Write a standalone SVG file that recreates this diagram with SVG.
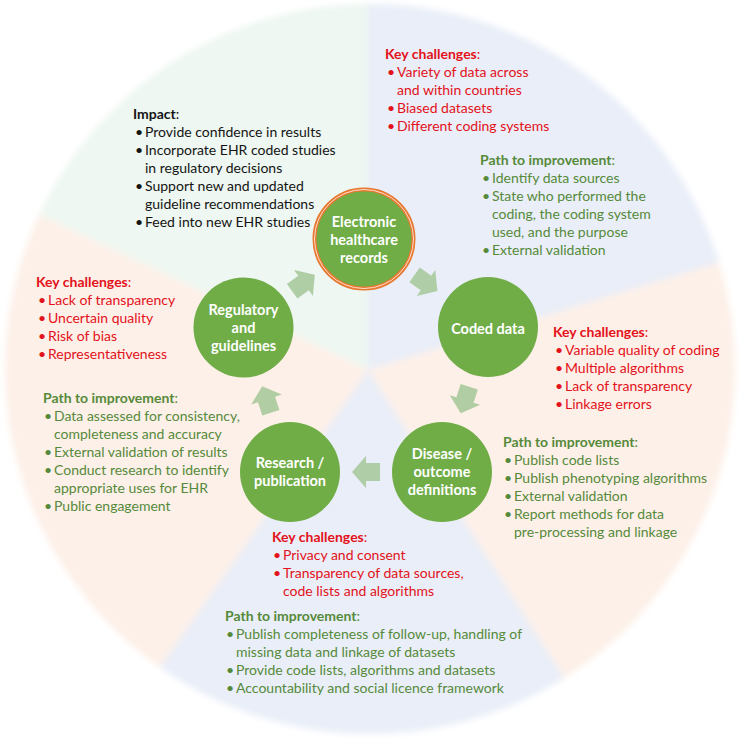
<svg xmlns="http://www.w3.org/2000/svg" width="740" height="740" viewBox="0 0 740 740">
<style>
.t{font-family:Lato,"Liberation Sans",sans-serif;font-size:14px}
.red{fill:#e3121b}
.grn{fill:#568a3b}
.blk{fill:#141414}
.b{font-weight:700}
.nt{font-family:Lato,"Liberation Sans",sans-serif;font-size:14.5px;font-weight:700;fill:#ffffff;text-anchor:middle}
.node{fill:#70ad47}
.arr{fill:#a9c99c;opacity:0.9}
</style>
<defs>
<clipPath id="disc"><circle cx="370" cy="369" r="365"/></clipPath>
<filter id="soft" x="-5%" y="-5%" width="110%" height="110%"><feGaussianBlur stdDeviation="3"/></filter>
<path id="blk" d="M-14,-9 L0,-9 L0,-16 L14,0 L0,16 L0,9 L-14,9 Z"/>
</defs>
<rect width="740" height="740" fill="#ffffff"/>
<g id="background" filter="url(#soft)">
<g clip-path="url(#disc)">
<polygon points="368,370 -174.5,113.6 368,-230" fill="#eef7f1"/>
<polygon points="368,370 368,-230 941.8,194.6" fill="#e9eef8"/>
<polygon points="368,370 941.8,194.6 690.4,876" fill="#fdf0e8"/>
<polygon points="368,370 690.4,876 23.8,861.5" fill="#e9eef8"/>
<polygon points="368,370 23.8,861.5 -174.5,113.6" fill="#fdf0e8"/>
</g>
</g>

<g id="connectors">
<use href="#blk" class="arr" transform="translate(303.5,283) rotate(-36)"/>
<use href="#blk" class="arr" transform="translate(426,283) rotate(35.4)"/>
<use href="#blk" class="arr" transform="translate(465,400) rotate(107.6)"/>
<use href="#blk" class="arr" transform="translate(366,472) rotate(180)"/>
<use href="#blk" class="arr" transform="translate(266.5,399.5) rotate(-108)"/>
</g>

<g id="node-ehr">
<circle cx="364" cy="239" r="49.5" fill="#70ad47" stroke="#e8782f" stroke-width="4"/>
<circle cx="364" cy="239" r="49.5" fill="none" stroke="#fbe0cf" stroke-width="1"/>
<text class="nt" x="364" y="227">Electronic</text>
<text class="nt" x="364" y="245">healthcare</text>
<text class="nt" x="364" y="263">records</text>
</g>
<g id="node-coded">
<circle class="node" cx="488" cy="327" r="50"/>
<text class="nt" x="488" y="334">Coded data</text>
</g>
<g id="node-disease">
<circle class="node" cx="442" cy="472" r="50"/>
<text class="nt" x="442" y="459">Disease /</text>
<text class="nt" x="442" y="477">outcome</text>
<text class="nt" x="442" y="495">definitions</text>
</g>
<g id="node-research">
<circle class="node" cx="290" cy="472" r="50"/>
<text class="nt" x="290" y="468">Research /</text>
<text class="nt" x="290" y="486">publication</text>
</g>
<g id="node-regulatory">
<circle class="node" cx="243.5" cy="327.5" r="50"/>
<text class="nt" x="243.5" y="315">Regulatory</text>
<text class="nt" x="243.5" y="333">and</text>
<text class="nt" x="243.5" y="351">guidelines</text>
</g>

<g id="impact" class="t blk">
<text x="133" y="119"><tspan class="b">Impact</tspan>:</text>
<text y="137"><tspan x="135">•</tspan><tspan x="145">Provide confidence in results</tspan></text>
<text y="155"><tspan x="135">•</tspan><tspan x="145">Incorporate EHR coded studies</tspan></text>
<text x="145" y="173">in regulatory decisions</text>
<text y="191"><tspan x="135">•</tspan><tspan x="145">Support new and updated</tspan></text>
<text x="145" y="209">guideline recommendations</text>
<text y="227"><tspan x="135">•</tspan><tspan x="145">Feed into new EHR studies</tspan></text>
</g>

<g id="ehr-challenges" class="t red">
<text x="385" y="59"><tspan class="b">Key challenges</tspan>:</text>
<text y="77"><tspan x="387">•</tspan><tspan x="397">Variety of data across</tspan></text>
<text x="397" y="95">and within countries</text>
<text y="113"><tspan x="387">•</tspan><tspan x="397">Biased datasets</tspan></text>
<text y="131"><tspan x="387">•</tspan><tspan x="397">Different coding systems</tspan></text>
</g>

<g id="ehr-path" class="t grn">
<text x="480" y="165"><tspan class="b">Path to improvement</tspan>:</text>
<text y="183"><tspan x="482">•</tspan><tspan x="492">Identify data sources</tspan></text>
<text y="201"><tspan x="482">•</tspan><tspan x="492">State who performed the</tspan></text>
<text x="492" y="219">coding, the coding system</text>
<text x="492" y="237">used, and the purpose</text>
<text y="255"><tspan x="482">•</tspan><tspan x="492">External validation</tspan></text>
</g>

<g id="coded-challenges" class="t red">
<text x="553" y="337"><tspan class="b">Key challenges</tspan>:</text>
<text y="355"><tspan x="555">•</tspan><tspan x="565">Variable quality of coding</tspan></text>
<text y="373"><tspan x="555">•</tspan><tspan x="565">Multiple algorithms</tspan></text>
<text y="391"><tspan x="555">•</tspan><tspan x="565">Lack of transparency</tspan></text>
<text y="409"><tspan x="555">•</tspan><tspan x="565">Linkage errors</tspan></text>
</g>

<g id="disease-path" class="t grn">
<text x="503" y="447"><tspan class="b">Path to improvement</tspan>:</text>
<text y="465"><tspan x="504">•</tspan><tspan x="514">Publish code lists</tspan></text>
<text y="483"><tspan x="504">•</tspan><tspan x="514">Publish phenotyping algorithms</tspan></text>
<text y="501"><tspan x="504">•</tspan><tspan x="514">External validation</tspan></text>
<text y="519"><tspan x="504">•</tspan><tspan x="514">Report methods for data</tspan></text>
<text x="514" y="537">pre-processing and linkage</text>
</g>

<g id="research-challenges" class="t red">
<text x="272" y="542"><tspan class="b">Key challenges</tspan>:</text>
<text y="560"><tspan x="273">•</tspan><tspan x="283">Privacy and consent</tspan></text>
<text y="578"><tspan x="273">•</tspan><tspan x="283">Transparency of data sources,</tspan></text>
<text x="283" y="596">code lists and algorithms</text>
</g>

<g id="research-path" class="t grn">
<text x="225" y="621"><tspan class="b">Path to improvement</tspan>:</text>
<text y="639"><tspan x="226">•</tspan><tspan x="236">Publish completeness of follow-up, handling of</tspan></text>
<text x="236" y="657">missing data and linkage of datasets</text>
<text y="675"><tspan x="226">•</tspan><tspan x="236">Provide code lists, algorithms and datasets</tspan></text>
<text y="693"><tspan x="226">•</tspan><tspan x="236">Accountability and social licence framework</tspan></text>
</g>

<g id="regulatory-challenges" class="t red">
<text x="36" y="287"><tspan class="b">Key challenges</tspan>:</text>
<text y="305"><tspan x="38">•</tspan><tspan x="48">Lack of transparency</tspan></text>
<text y="323"><tspan x="38">•</tspan><tspan x="48">Uncertain quality</tspan></text>
<text y="341"><tspan x="38">•</tspan><tspan x="48">Risk of bias</tspan></text>
<text y="359"><tspan x="38">•</tspan><tspan x="48">Representativeness</tspan></text>
</g>

<g id="regulatory-path" class="t grn">
<text x="43" y="403"><tspan class="b">Path to improvement</tspan>:</text>
<text y="421"><tspan x="44">•</tspan><tspan x="54">Data assessed for consistency,</tspan></text>
<text x="54" y="439">completeness and accuracy</text>
<text y="457"><tspan x="44">•</tspan><tspan x="54">External validation of results</tspan></text>
<text y="475"><tspan x="44">•</tspan><tspan x="54">Conduct research to identify</tspan></text>
<text x="54" y="493">appropriate uses for EHR</text>
<text y="511"><tspan x="44">•</tspan><tspan x="54">Public engagement</tspan></text>
</g>
</svg>
